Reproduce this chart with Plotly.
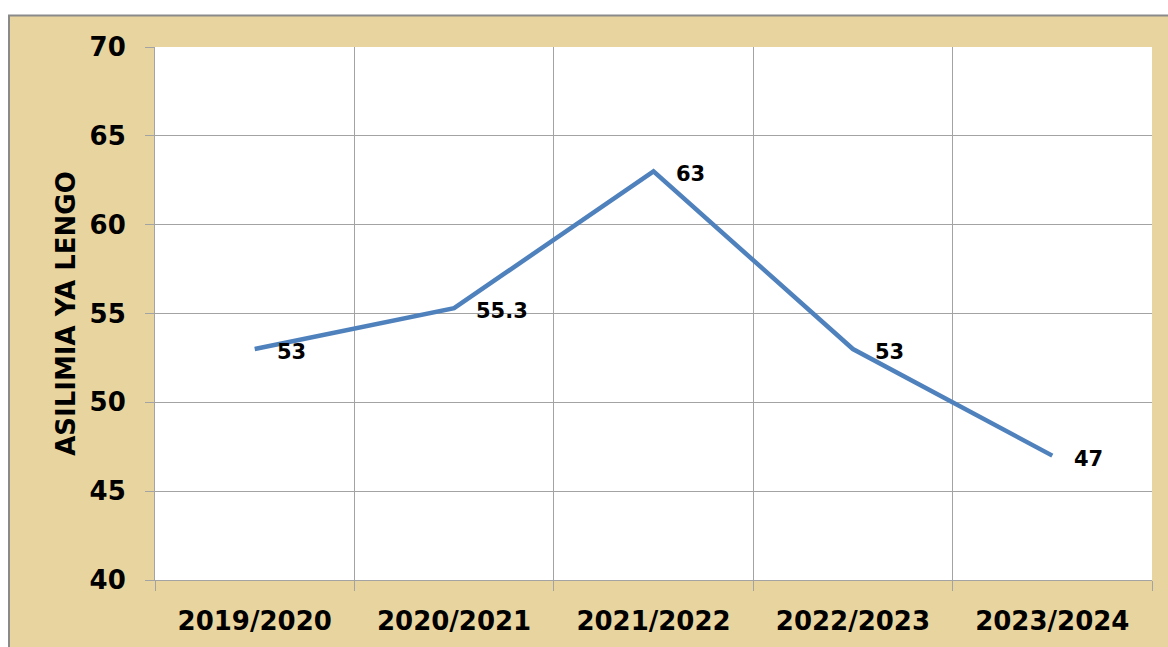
import plotly.graph_objects as go

categories = ["2019/2020", "2020/2021", "2021/2022", "2022/2023", "2023/2024"]
values = [53, 55.3, 63, 53, 47]
value_labels = ["53", "55.3", "63", "53", "47"]
y_ticks = [40, 45, 50, 55, 60, 65, 70]
y_title = "ASILIMIA YA LENGO"

W, H = 1168, 647
L, R, T, B = 155, 16, 47, 67
PW, PH = W - L - R, H - T - B

def px_x(p):
    return (p - L) / PW

def px_y(p):
    return (H - B - p) / PH

PARCH = "#E8D49E"
GRID = "#A3A3A3"
LINE = "#4F81BD"
FONT = "DejaVu Sans"

fig = go.Figure()
fig.add_trace(go.Scatter(
    x=categories, y=values, mode="lines",
    line=dict(color=LINE, width=4.5), hoverinfo="skip", showlegend=False,
))

annotations = []
for c, v, t in zip(categories, values, value_labels):
    annotations.append(dict(
        x=c, y=v, xref="x", yref="y", text="<b>%s</b>" % t, showarrow=False,
        xanchor="left", yanchor="middle", xshift=20, yshift=-3,
        font=dict(family=FONT, size=21, color="#000000"),
    ))

shapes = [
    dict(type="rect", xref="paper", yref="paper", x0=-0.3, x1=1.2,
         y0=px_y(15), y1=px_y(-20), fillcolor="white", line=dict(width=0), layer="below"),
    dict(type="rect", xref="paper", yref="paper", x0=px_x(-20), x1=px_x(8),
         y0=px_y(700), y1=px_y(-20), fillcolor="white", line=dict(width=0), layer="below"),
    dict(type="line", xref="paper", yref="paper", x0=px_x(9), x1=px_x(9),
         y0=px_y(700), y1=px_y(15), line=dict(color="#8A8A8A", width=2), layer="below"),
    dict(type="line", xref="paper", yref="paper", x0=px_x(8), x1=px_x(1200),
         y0=px_y(15.5), y1=px_y(15.5), line=dict(color="#8A8A8A", width=2), layer="below"),
]

fig.update_layout(
    width=W, height=H,
    margin=dict(l=L, r=R, t=T, b=B, pad=0),
    paper_bgcolor=PARCH, plot_bgcolor="white",
    annotations=annotations, shapes=shapes,
    xaxis=dict(
        type="category", range=[-0.5, 4.5], tickson="boundaries",
        showgrid=True, gridcolor=GRID, gridwidth=1,
        ticks="outside", ticklen=10, tickcolor=GRID, tickwidth=1,
        showline=True, linecolor=GRID, linewidth=1,
        tickfont=dict(family=FONT, size=26, color="#000000", weight="bold"),
        ticklabelstandoff=18, fixedrange=True,
    ),
    yaxis=dict(
        range=[40, 70], tickvals=y_ticks, ticktext=[str(v) for v in y_ticks],
        showgrid=True, gridcolor=GRID, gridwidth=1, zeroline=False,
        ticks="outside", ticklen=9, tickcolor=GRID, tickwidth=1,
        showline=True, linecolor=GRID, linewidth=1,
        tickfont=dict(family=FONT, size=26, color="#000000", weight="bold"),
        ticklabelstandoff=14,
        title=dict(text=y_title, standoff=6,
                   font=dict(family=FONT, size=26, color="#000000", weight="bold")),
        fixedrange=True,
    ),
)

fig.write_html(
    "out.html",
    config={"displayModeBar": False},
    post_script="document.body.style.margin='0';document.body.style.overflow='hidden';",
)
